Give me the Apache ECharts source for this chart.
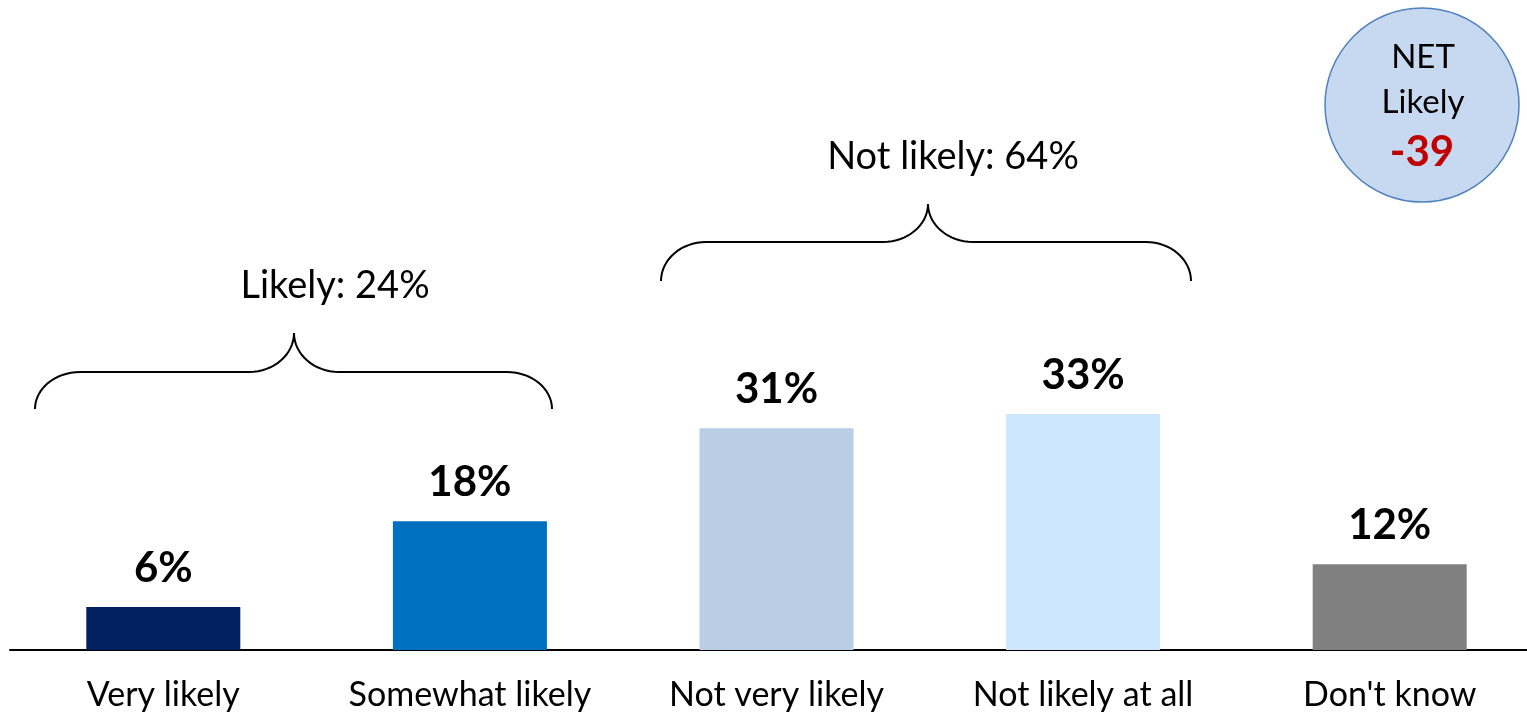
<!DOCTYPE html>
<html>
<head>
<meta charset="utf-8">
<style>
  html, body { margin: 0; padding: 0; background: #fff; }
  #container { width: 1527px; height: 715px; }
</style>
<script src="https://cdn.jsdelivr.net/npm/echarts@6/dist/echarts.min.js"></script>
</head>
<body>
<div id="container"></div>
<script>
// 数据
var categories = ['Very likely', 'Somewhat likely', 'Not very likely', 'Not likely at all', "Don't know"];
var values = [6, 18, 31, 33, 12];
var barColors = ['#002060', '#0070C0', '#B9CDE5', '#CCE6FF', '#808080'];
var groupLabels = ['Likely: 24%', 'Not likely: 64%'];
var netLines = ['NET', 'Likely', '-39'];

var FONT = 'Lato, "Open Sans", sans-serif';

var dom = document.getElementById('container');
var myChart = echarts.init(dom);

var option = {
    animation: false,
    grid: {
        outerBoundsMode: 'none',
        containLabel: false,
        left: 10,
        right: -16,
        top: 221,
        bottom: 65
    },
    xAxis: {
        type: 'category',
        data: categories,
        axisLine: { lineStyle: { color: '#000', width: 2 } },
        axisTick: { show: false },
        axisLabel: {
            interval: 0,
            margin: 28,
            fontSize: 34,
            color: '#000',
            fontFamily: FONT
        }
    },
    yAxis: {
        type: 'value',
        min: 0,
        max: 60,
        show: false,
        splitLine: { show: false }
    },
    series: [{
        type: 'bar',
        barWidth: 154,
        data: values.map(function (v, i) {
            return { value: v, itemStyle: { color: barColors[i] } };
        }),
        label: {
            show: true,
            position: 'top',
            distance: 18,
            formatter: '{c}%',
            fontSize: 42,
            fontWeight: 'bold',
            color: '#000',
            fontFamily: FONT
        }
    }]
};
myChart.setOption(option, true);

// 大括号：用三次贝塞尔曲线采样成折线
function cubic(p0, p1, p2, p3, n, out) {
    for (var i = 1; i <= n; i++) {
        var t = i / n, u = 1 - t;
        out.push([
            u * u * u * p0[0] + 3 * u * u * t * p1[0] + 3 * u * t * t * p2[0] + t * t * t * p3[0],
            u * u * u * p0[1] + 3 * u * u * t * p1[1] + 3 * u * t * t * p2[1] + t * t * t * p3[1]
        ]);
    }
}
function bracePoints(xL, xR, xC, yb, yh, yt) {
    var r = 45, k = 0.55, n = 16;
    var pts = [[xL, yb]];
    cubic([xL, yb], [xL, yh + (yb - yh) * (1 - k)], [xL + r * (1 - k), yh], [xL + r, yh], n, pts);
    pts.push([xC - r, yh]);
    cubic([xC - r, yh], [xC - r * (1 - k), yh], [xC, yh - (yh - yt) * (1 - k)], [xC, yt], n, pts);
    cubic([xC, yt], [xC, yh - (yh - yt) * (1 - k)], [xC + r * (1 - k), yh], [xC + r, yh], n, pts);
    pts.push([xR - r, yh]);
    cubic([xR - r, yh], [xR - r * (1 - k), yh], [xR, yh + (yb - yh) * (1 - k)], [xR, yb], n, pts);
    return pts;
}

var elements = [
    {
        type: 'polyline',
        shape: { points: bracePoints(35, 552, 294, 409, 372, 333) },
        style: { fill: null, stroke: '#000', lineWidth: 2 }
    },
    {
        type: 'polyline',
        shape: { points: bracePoints(661, 1191, 928, 281, 242, 204) },
        style: { fill: null, stroke: '#000', lineWidth: 2 }
    },
    {
        type: 'text', x: 335, y: 286,
        style: { text: groupLabels[0], fontSize: 38, fill: '#000', fontFamily: FONT, align: 'center', verticalAlign: 'middle' }
    },
    {
        type: 'text', x: 953, y: 157,
        style: { text: groupLabels[1], fontSize: 38, fill: '#000', fontFamily: FONT, align: 'center', verticalAlign: 'middle' }
    },
    {
        type: 'circle',
        shape: { cx: 1422, cy: 105, r: 97 },
        style: { fill: '#C6D9F1', stroke: '#4F81BD', lineWidth: 1.5 }
    },
    {
        type: 'text', x: 1423, y: 57,
        style: { text: netLines[0], fontSize: 33, fill: '#000', fontFamily: FONT, align: 'center', verticalAlign: 'middle' }
    },
    {
        type: 'text', x: 1423, y: 102,
        style: { text: netLines[1], fontSize: 33, fill: '#000', fontFamily: FONT, align: 'center', verticalAlign: 'middle' }
    },
    {
        type: 'text', x: 1422, y: 152,
        style: { text: netLines[2], fontSize: 42, fontWeight: 'bold', fill: '#C00000', fontFamily: FONT, align: 'center', verticalAlign: 'middle' }
    }
];
myChart.setOption({ graphic: { elements: elements } });
</script>
</body>
</html>
